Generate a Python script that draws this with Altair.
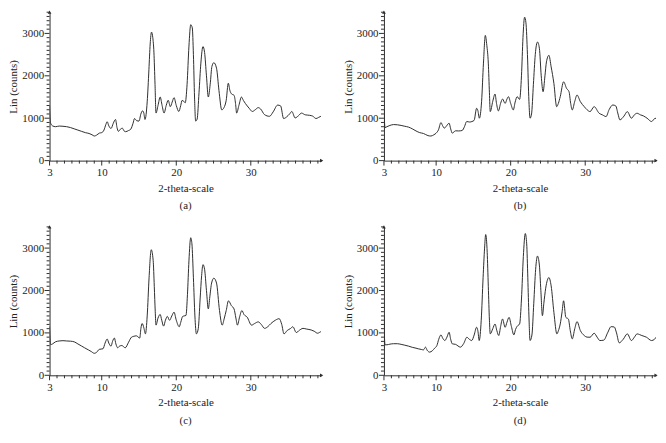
import altair as alt
import pandas as pd

# ---------------- data ----------------
XA = [3.0, 3.05, 3.15, 3.4, 3.8, 4.3, 4.8, 5.3, 5.8, 6.3, 6.8, 7.3, 7.8, 8.3, 8.7, 9.0, 9.3, 9.7, 10.0, 10.3,
      10.55, 10.73, 10.95, 11.25, 11.55, 11.85, 12.05, 12.24, 12.5, 12.76, 13.0, 13.2, 13.6, 13.9, 14.2, 14.4, 14.7,
      15.0, 15.25, 15.47, 15.65, 15.8, 16.1, 16.33, 16.5, 16.68, 16.85, 17.0, 17.15, 17.28, 17.55, 17.84, 18.1,
      18.36, 18.65, 18.92, 19.2, 19.45, 19.7, 20.0, 20.34, 20.6, 20.78, 21.0, 21.2, 21.45, 21.7, 21.94, 22.15,
      22.3, 22.45, 22.6, 22.8, 23.05, 23.3, 23.58, 23.8, 24.05, 24.3, 24.55, 24.78, 25.04, 25.4, 25.73, 26.1,
      26.4, 26.7, 26.98, 27.2, 27.4, 27.76, 27.95, 28.1, 28.4, 28.75, 29.0, 29.27, 29.78, 30.2, 30.6, 31.0, 31.3,
      31.85, 32.5, 33.0, 33.6, 34.0, 34.4, 34.8, 35.2, 35.5, 35.95, 36.4, 36.8, 37.3, 37.9, 38.3, 38.75, 39.1, 39.4]
YA = [1300, 1050, 880, 820, 800, 815, 810, 800, 780, 750, 720, 690, 660, 640, 610, 580, 600, 650, 660, 720,
      850, 917, 820, 758, 880, 970, 780, 690, 740, 765, 700, 682, 710, 742, 880, 992, 940,
      932, 1100, 1174, 1120, 970, 1386, 2144, 2750, 3030, 2900, 2560, 1800, 1121, 1300, 1500, 1300,
      1121, 1300, 1424, 1272, 1380, 1485, 1300, 1159, 1300, 1420, 1400, 1364, 1800, 2700, 3205, 3130,
      2500, 1500, 932, 980, 1600, 2300, 2690, 2550, 2000, 1500, 1800, 2220, 2310, 2180, 1650, 1197,
      1250, 1424, 1826, 1650, 1576, 1538, 1350, 1121, 1300, 1500, 1420, 1348, 1235, 1159, 1200, 1250, 1220,
      1083, 1045, 1150, 1310, 1290, 992, 1030, 1100, 1159, 1007, 1060, 1121, 1080, 1068, 1050, 992, 1020, 1045]

XB = [3.0, 3.05, 3.15, 3.4, 3.8, 4.3, 4.8, 5.3, 5.8, 6.3, 6.8, 7.3, 7.8, 8.3, 8.9, 9.3, 9.7, 10.0, 10.3, 10.65,
      10.85, 11.1, 11.4, 11.74, 11.95, 12.17, 12.6, 13.0, 13.5, 13.8, 14.1, 14.5, 14.8, 15.1, 15.43, 15.6, 15.8,
      16.1, 16.35, 16.6, 16.8, 17.0, 17.15, 17.26, 17.6, 17.9, 18.1, 18.35, 18.65, 18.9, 19.26, 19.5, 19.7, 20.0,
      20.35, 20.6, 20.87, 21.2, 21.45, 21.65, 21.87, 22.05, 22.25, 22.45, 22.6, 22.8, 23.05, 23.3, 23.6, 23.85,
      24.1, 24.35, 24.6, 24.8, 25.13, 25.43, 25.8, 26.17, 26.4, 26.65, 27.1, 27.5, 27.83, 28.05, 28.26, 28.6,
      28.9, 29.35, 29.87, 30.25, 30.65, 31.2, 31.87, 32.3, 32.8, 33.2, 33.7, 34.1, 34.4, 34.65, 35.2, 35.65,
      36.2, 36.6, 36.96, 37.4, 37.8, 38.3, 38.9, 39.3, 39.5]
YB = [1250, 1000, 780, 800, 830, 850, 845, 830, 810, 790, 750, 700, 660, 640, 590, 580, 610, 648, 720, 898,
      830, 766, 820, 883, 750, 648, 703, 700, 711, 800, 922, 910, 922, 950, 1234, 1180, 1000,
      1400, 2300, 2953, 2719, 2300, 1600, 1156, 1400, 1570, 1350, 1172, 1350, 1453, 1351, 1450, 1508, 1350,
      1195, 1380, 1508, 1445, 2000, 2900, 3383, 3250, 2500, 1400, 1000, 1100, 1800, 2500, 2797, 2650,
      2000, 1625, 2000, 2328, 2484, 2211, 1820, 1273, 1350, 1508, 1859, 1703, 1625, 1350, 1195, 1400,
      1547, 1390, 1273, 1200, 1156, 1273, 1117, 1080, 1039, 1200, 1312, 1290, 1100, 961, 1050, 1156,
      1000, 1080, 1117, 1080, 1055, 1000, 922, 990, 1000]

XC = [3.0, 3.05, 3.15, 3.4, 3.8, 4.3, 4.8, 5.3, 5.8, 6.3, 6.8, 7.3, 7.7, 8.2, 8.6, 9.0, 9.3, 9.66, 10.17, 10.45,
      10.73, 10.95, 11.25, 11.45, 11.7, 11.9, 12.14, 12.4, 12.7, 13.15, 13.6, 14.0, 14.3, 14.65, 15.1, 15.25,
      15.43, 15.65, 15.86, 16.1, 16.35, 16.64, 16.9, 17.05, 17.18, 17.28, 17.55, 17.84, 18.05, 18.3, 18.55, 18.8,
      19.1, 19.4, 19.7, 20.0, 20.4, 20.6, 20.86, 21.05, 21.3, 21.5, 21.7, 21.94, 22.1, 22.3, 22.5, 22.7, 22.95,
      23.2, 23.4, 23.58, 23.8, 24.05, 24.3, 24.5, 24.74, 25.04, 25.4, 25.8, 26.16, 26.45, 26.7, 27.0, 27.4,
      27.75, 28.0, 28.2, 28.5, 28.8, 29.1, 29.5, 30.1, 30.5, 31.0, 31.4, 31.85, 32.3, 32.7, 33.3, 33.8, 34.15,
      34.45, 34.9, 35.3, 35.65, 36.1, 36.5, 37.0, 37.5, 38.1, 38.5, 38.97, 39.2, 39.4]
YC = [1150, 900, 725, 740, 790, 810, 817, 810, 805, 790, 740, 690, 649, 600, 560, 519, 540, 611, 626, 760,
      855, 760, 687, 800, 878, 740, 649, 690, 702, 649, 780, 900, 920, 931, 878, 1100,
      1221, 1120, 977, 1400, 2300, 2962, 2710, 2100, 1500, 1183, 1350, 1435, 1300, 1160, 1300, 1389,
      1298, 1400, 1489, 1300, 1145, 1250, 1389, 1400, 1412, 1900, 2700, 3244, 3100, 2300, 1400, 977, 1100,
      1800, 2350, 2611, 2500, 2000, 1565, 1850, 2176, 2290, 2176, 1527, 1183, 1350, 1527, 1756, 1641,
      1565, 1350, 1183, 1380, 1527, 1430, 1374, 1183, 1220, 1260, 1200, 1107, 1150, 1221, 1300, 1336, 1200,
      977, 1060, 1100, 1145, 1008, 1060, 1107, 1090, 1069, 1040, 992, 1010, 1030]

XD = [3.0, 3.05, 3.15, 3.4, 3.8, 4.3, 4.8, 5.3, 5.8, 6.3, 6.8, 7.3, 7.6, 8.0, 8.3, 8.57, 8.8, 9.13, 9.5, 9.8,
      10.1, 10.35, 10.65, 10.9, 11.17, 11.45, 11.74, 11.95, 12.17, 12.6, 13.26, 13.7, 14.13, 14.45, 14.78, 15.1,
      15.43, 15.6, 15.78, 16.05, 16.3, 16.5, 16.65, 16.85, 17.0, 17.15, 17.26, 17.6, 17.9, 18.15, 18.4, 18.65,
      18.9, 19.26, 19.5, 19.78, 20.1, 20.43, 20.65, 20.87, 21.2, 21.45, 21.7, 21.96, 22.15, 22.3, 22.45, 22.6,
      22.85, 23.1, 23.35, 23.6, 23.85, 24.05, 24.26, 24.45, 24.7, 25.13, 25.43, 25.8, 26.2, 26.4, 26.65, 26.9,
      27.1, 27.4, 27.74, 28.0, 28.26, 28.6, 28.9, 29.35, 29.87, 30.25, 30.65, 31.2, 31.6, 31.96, 32.5, 33.0,
      33.48, 33.9, 34.2, 34.56, 35.1, 35.65, 36.2, 36.6, 36.96, 37.3, 37.6, 38.2, 38.9, 39.3, 39.5]
YD = [1400, 1000, 719, 720, 735, 745, 745, 730, 710, 688, 660, 640, 625, 610, 600, 664, 590, 547, 580, 640,
      700, 850, 953, 870, 820, 900, 1016, 850, 742, 730, 664, 750, 898, 850, 820, 950,
      1133, 1050, 820, 1300, 2300, 3000, 3320, 2900, 2100, 1300, 977, 1100, 1211, 1050, 938, 1150,
      1328, 1133, 1250, 1367, 1150, 953, 1080, 1156, 1211, 1800, 2800, 3344, 3100, 2300, 1400, 820,
      950, 1700, 2500, 2812, 2600, 2000, 1406, 1700, 2055, 2305, 2109, 1484, 977, 1050, 1211, 1500,
      1758, 1367, 1328, 1050, 859, 1100, 1266, 1055, 938, 900, 898, 992, 900, 820, 830, 1000,
      1148, 1140, 1000, 766, 850, 977, 820, 900, 977, 960, 938, 900, 820, 850, 898]

CAPTIONS = ["(a)", "(b)", "(c)", "(d)"]
X_TITLE = "2-theta-scale"
Y_TITLE = "Lin (counts)"
X_DOMAIN = [3, 39.5]
Y_DOMAIN = [0, 3500]
X_MINOR = [v for v in range(3, 40) if not (v == 3 or v % 10 == 0)]
X_MAJOR = [3, 10, 20, 30]
Y_MINOR = [v for v in range(100, 3501, 100) if v % 1000 != 0]
Y_MAJOR = [0, 1000, 2000, 3000]

# ---------------- styling ----------------
FONT = "Times New Roman, Liberation Serif, DejaVu Serif, serif"
INK = "#2e2e2e"
TEXT = "#222222"
PANEL_W = 275
PANEL_H = 150

X_SCALE = alt.Scale(domain=X_DOMAIN, nice=False, zero=False)
Y_SCALE = alt.Scale(domain=Y_DOMAIN, nice=False)


def panel(xs, ys, caption):
    df = pd.DataFrame({"x": xs, "y": ys})
    arrows_df = pd.DataFrame({
        "x": [X_DOMAIN[0], X_DOMAIN[1]],
        "y": [Y_DOMAIN[1], Y_DOMAIN[0]],
        "shape": ["triangle-up", "triangle-right"],
    })
    x_axis = alt.Axis(
        values=X_MAJOR, ticks=False, labelOverlap=False, labelFlush=False, grid=False,
        titlePadding=5, labelPadding=6,
    )
    y_axis = alt.Axis(
        values=Y_MAJOR, format="d", ticks=False, labelOverlap=False, labelFlush=False, grid=False,
        titlePadding=3, labelPadding=6,
    )
    x_enc = alt.X("x:Q", scale=X_SCALE, axis=x_axis, title=X_TITLE)
    y_enc = alt.Y("y:Q", scale=Y_SCALE, axis=y_axis, title=Y_TITLE)

    line = alt.Chart(df).mark_line(
        color=INK, strokeWidth=1, interpolate="monotone", clip=True
    ).encode(x=x_enc, y=y_enc)
    arrows = alt.Chart(arrows_df).mark_point(
        filled=True, size=14, color=INK, opacity=1
    ).encode(x=x_enc, y=y_enc, shape=alt.Shape("shape:N", scale=None))

    def xticks(vals, length):
        return alt.Chart(pd.DataFrame({"x": vals})).mark_rule(color=INK, strokeWidth=1).encode(
            x=x_enc, y=alt.value(PANEL_H), y2=alt.value(PANEL_H + length))

    def yticks(vals, length):
        return alt.Chart(pd.DataFrame({"y": vals})).mark_rule(color=INK, strokeWidth=1).encode(
            y=y_enc, x=alt.value(0), x2=alt.value(-length))

    return alt.layer(
        line, arrows,
        xticks(X_MINOR, 3), xticks(X_MAJOR, 5),
        yticks(Y_MINOR, 3), yticks(Y_MAJOR, 5),
    ).properties(
        width=PANEL_W, height=PANEL_H,
        title=alt.TitleParams(caption, orient="bottom", anchor="middle", font=FONT,
                              fontSize=11, fontWeight="normal", color=TEXT, offset=7),
    )


a = panel(XA, YA, CAPTIONS[0])
b = panel(XB, YB, CAPTIONS[1])
c = panel(XC, YC, CAPTIONS[2])
d = panel(XD, YD, CAPTIONS[3])

chart = alt.vconcat(
    alt.hconcat(a, b, spacing=19),
    alt.hconcat(c, d, spacing=19),
    spacing=14,
).properties(
    padding={"left": 0, "top": 0, "right": 0, "bottom": 0}
).configure_view(
    stroke=None
).configure_axis(
    labelFont=FONT, labelFontSize=11, labelColor=TEXT,
    titleFont=FONT, titleFontSize=11, titleFontWeight="normal", titleColor=TEXT,
    domainColor=INK, domainWidth=1,
)

chart.save("out.html", embed_options={"renderer": "svg", "actions": False})
